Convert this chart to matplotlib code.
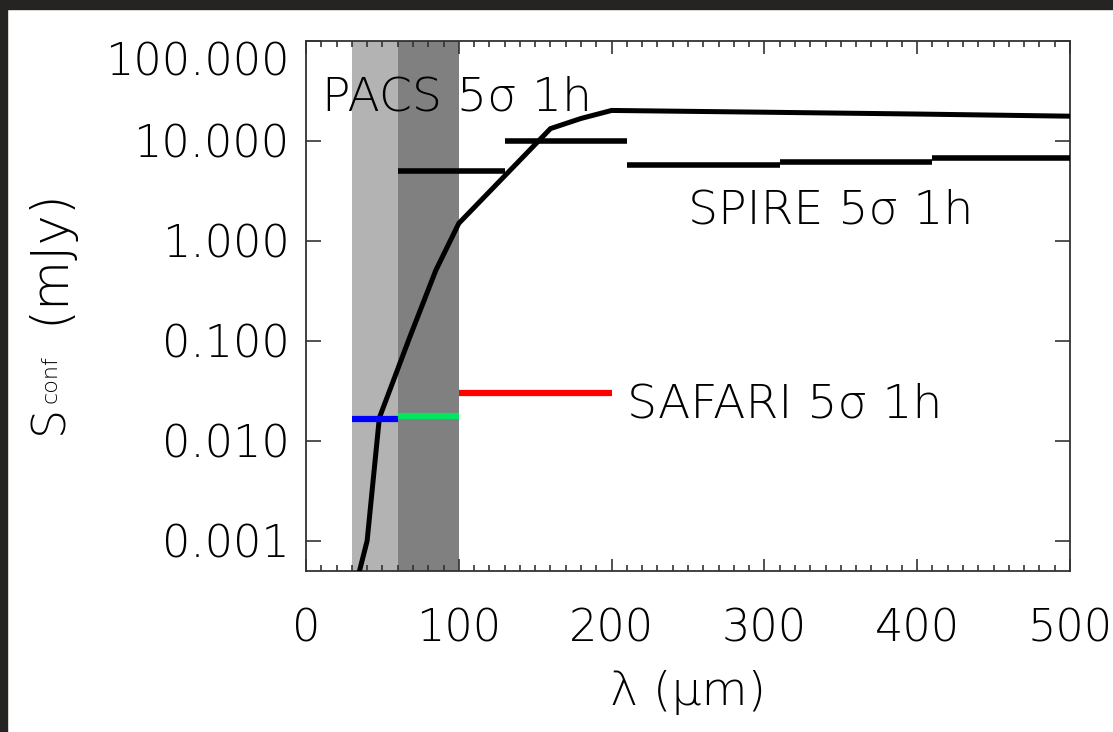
import numpy as np
import matplotlib
matplotlib.use("Agg")
import matplotlib.pyplot as plt
from matplotlib.patches import Rectangle
from matplotlib.ticker import MultipleLocator, LogLocator, FixedLocator, NullFormatter
from matplotlib.transforms import ScaledTranslation

plt.rcParams["font.family"] = ["DejaVu Sans"]
plt.rcParams["font.weight"] = 200
plt.rcParams["axes.labelweight"] = 200

# confusion-limit curve
curve_lam = [35, 40, 48, 68, 85, 100, 160, 180, 200, 300, 400, 500]
curve_s = [0.0005, 0.001, 0.017, 0.11, 0.51, 1.5, 13.3, 16.8, 20.2, 19.4, 18.6, 17.7]

# PACS sensitivities (start, end, level)
pacs_lo = [60, 130]
pacs_hi = [130, 210]
pacs_s = [5.0, 10.0]

# SPIRE sensitivities
spire_lo = [210, 310, 410]
spire_hi = [310, 410, 500]
spire_s = [5.7, 6.2, 6.7]

# SAFARI sensitivities
safari_lo = [30, 60, 100]
safari_hi = [60, 100, 200]
safari_s = [0.0167, 0.0178, 0.0302]
safari_col = ["#0000ff", "#00e65f", "#ff0000"]

# shaded bands
band_lo = [30, 60]
band_hi = [60, 100]
band_col = ["#b3b3b3", "#808080"]

ytick_vals = [0.001, 0.01, 0.1, 1, 10, 100]
ytick_labels = ["0.001", "0.010", "0.100", "1.000", "10.000", "100.000"]

W, H = 1113, 732
fig = plt.figure(figsize=(W / 100, H / 100), dpi=100)
fig.patches.append(Rectangle((0, 0), 7 / W, 1, transform=fig.transFigure,
                             color="#262422", zorder=-10))
fig.patches.append(Rectangle((0, 1 - 9 / H), 1, 9 / H, transform=fig.transFigure,
                             color="#262422", zorder=-10))
ax = fig.add_axes([306 / W, 1 - 571 / H, 764 / W, 530 / H])

for lo, hi, c in zip(band_lo, band_hi, band_col):
    ax.axvspan(lo, hi, color=c, lw=0, zorder=0)

ax.plot(curve_lam, curve_s, color="black", lw=3.6, zorder=3, solid_joinstyle="miter")
ax.hlines(pacs_s, pacs_lo, pacs_hi, color="black", lw=4, zorder=3)
ax.hlines(spire_s, spire_lo, spire_hi, color="black", lw=4, zorder=3)
ax.hlines(safari_s, safari_lo, safari_hi, colors=safari_col, lw=4.5, zorder=3)

ax.set_xlim(0, 500)
ax.set_yscale("log")
ax.set_ylim(5e-4, 100)

fs = 32
tfs = 34
ax.text(10.5, 27.5, "PACS 5σ 1h", fontsize=tfs, va="center", ha="left")
ax.text(250, 2.0, "SPIRE 5σ 1h", fontsize=tfs, va="center", ha="left")
ax.text(210, 0.0233, "SAFARI 5σ 1h", fontsize=tfs, va="center", ha="left")

ax.xaxis.set_major_locator(MultipleLocator(100))
ax.xaxis.set_minor_locator(MultipleLocator(10))
ax.yaxis.set_major_locator(FixedLocator(ytick_vals))
ax.yaxis.set_minor_locator(LogLocator(base=10, subs=np.arange(2, 10)))
ax.yaxis.set_minor_formatter(NullFormatter())
ax.set_yticklabels(ytick_labels)

ax.tick_params(axis="both", which="both", direction="in", top=True, right=True,
               color="#333333", width=1.2, labelsize=fs)
ax.tick_params(axis="x", which="major", length=9, pad=26)
ax.tick_params(axis="x", which="minor", length=4.5)
ax.tick_params(axis="y", which="major", length=11, pad=12)
ax.tick_params(axis="y", which="minor", length=5.5)
for s in ax.spines.values():
    s.set_color("#333333")
    s.set_linewidth(1.3)

# top label sits below its tick
for lbl in ax.get_yticklabels():
    if lbl.get_text() == "100.000":
        lbl.set_transform(lbl.get_transform() + ScaledTranslation(0, -0.17, fig.dpi_scale_trans))

ax.set_xlabel("λ (μm)", fontsize=tfs, labelpad=14)

# y label built from pieces so the subscript keeps the thin face
rot = dict(rotation=90, rotation_mode="anchor", ha="left", va="baseline",
           transform=fig.transFigure)
fig.text(62 / W, 1 - 434 / H, "S", fontsize=33, **rot)
fig.text(57 / W, 1 - 403 / H, "conf", fontsize=16, **rot)
fig.text(63 / W, 1 - 324 / H, "(mJy)", fontsize=37, **rot)

fig.savefig("out.png", dpi=100, facecolor="white")
